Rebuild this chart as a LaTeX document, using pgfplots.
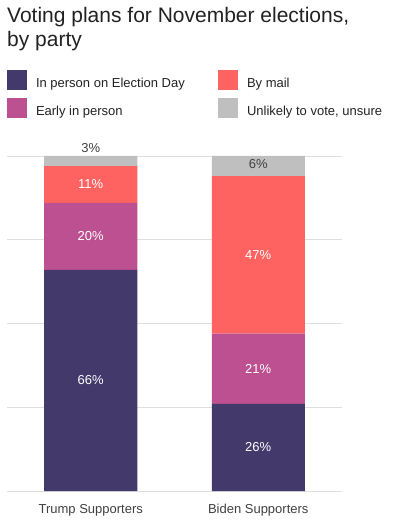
\documentclass[border=0pt]{standalone}
\usepackage{pgfplots}
\pgfplotsset{compat=1.18}
\usepackage{fontspec}
\setmainfont{Liberation Sans}
\definecolor{cDay}{HTML}{433A6B}
\definecolor{cEarly}{HTML}{BC5090}
\definecolor{cMail}{HTML}{FF6361}
\definecolor{cUns}{HTML}{BFBFBF}
\definecolor{cGrid}{HTML}{DEDEDE}
\definecolor{cText}{HTML}{404040}
\definecolor{cTitle}{HTML}{222222}
\pgfplotsset{sq/.style={legend image code/.code={\fill[##1] (0pt,-6pt) rectangle (20pt,14pt); \path (29pt,0pt);}}}
\begin{document}
\begin{tikzpicture}
\useasboundingbox (-7pt,-34pt) rectangle (385pt,491pt);
\begin{axis}[
  at={(0,0)}, anchor=south west,
  scale only axis, width=335pt, height=335pt,
  xmin=-0.5, xmax=1.5, ymin=0, ymax=100,
  ybar stacked, bar width=93pt,
  xtick={0,1}, xticklabels={Trump Supporters, Biden Supporters},
  ytick={0,25,50,75,100}, yticklabels={},
  ymajorgrids, grid style={cGrid, line width=0.8pt},
  axis line style={draw=none}, major tick length=0pt,
  tick label style={font=\fontsize{13}{15}\selectfont, text=cText},
  xticklabel style={anchor=base, yshift=-23pt},
  clip=false,
  legend columns=2, legend cell align=left,
  legend style={at={(0,1.2567)}, anchor=north west, draw=none, fill=none,
    inner sep=0pt, outer sep=0pt, column sep=0pt, row sep=7.5pt,
    font=\fontsize{13}{15}\selectfont, text=cTitle,
    nodes={inner sep=0pt, outer sep=0pt}},
]
\addlegendimage{sq, fill=cDay, draw=none}
\addlegendimage{sq, fill=cMail, draw=none}
\addlegendimage{sq, fill=cEarly, draw=none}
\addlegendimage{sq, fill=cUns, draw=none}
\legend{\makebox[182pt][l]{In person on Election Day}, By mail, \makebox[182pt][l]{Early in person}, {Unlikely to vote, unsure}}

\addplot[fill=cDay, draw=none] coordinates {(0,66) (1,26)};
\addplot[fill=cEarly, draw=none] coordinates {(0,20) (1,21)};
\addplot[fill=cMail, draw=none] coordinates {(0,11) (1,47)};
\addplot[fill=cUns, draw=none] coordinates {(0,3) (1,6)};
\end{axis}
\begin{axis}[
  at={(0,0)}, anchor=south west,
  scale only axis, width=335pt, height=335pt,
  xmin=-0.5, xmax=1.5, ymin=0, ymax=100,
  hide axis, clip=false,
]
\addplot[only marks, mark=none,
  nodes near coords={\pgfplotspointmeta\%}, point meta=explicit symbolic,
  every node near coord/.style={anchor=center, text=white, font=\fontsize{13}{15}\selectfont}]
  table[meta=l] {
x y l
0 33 66
0 76 20
0 91.5 11
1 13 26
1 36.5 21
1 70.3 47
};
\addplot[only marks, mark=none,
  nodes near coords={\pgfplotspointmeta\%}, point meta=explicit symbolic,
  every node near coord/.style={anchor=center, text=cText, font=\fontsize{13}{15}\selectfont}]
  table[meta=l] {
x y l
0 102.5 3
1 97.6 6
};
\end{axis}
\node[anchor=base west, inner sep=0pt, font=\fontsize{21}{24}\selectfont, text=cTitle] at (0pt,468pt) {Voting plans for November elections,};
\node[anchor=base west, inner sep=0pt, font=\fontsize{21}{24}\selectfont, text=cTitle] at (0pt,444pt) {by party};
\end{tikzpicture}
\end{document}
